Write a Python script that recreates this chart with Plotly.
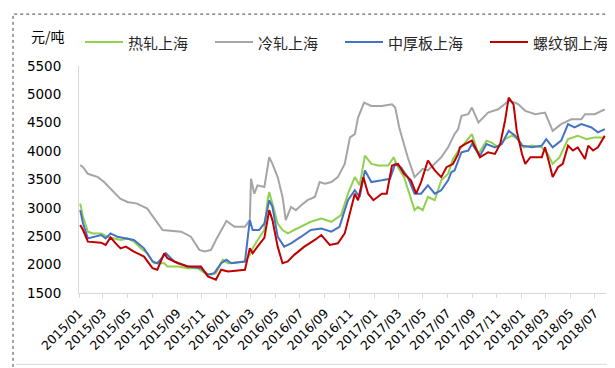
import plotly.graph_objects as go

# ---------------- data ----------------
hr_dates = ["2015-01-04","2015-01-11","2015-01-23","2015-02-05","2015-02-25","2015-03-12","2015-03-29","2015-04-14","2015-05-01","2015-05-17","2015-06-03","2015-06-19","2015-07-06","2015-07-31","2015-08-08","2015-09-03","2015-09-27","2015-10-22","2015-11-08","2015-11-24","2015-12-06","2015-12-23","2016-01-05","2016-02-16","2016-02-28","2016-03-06","2016-03-18","2016-04-04","2016-04-12","2016-04-16","2016-04-24","2016-05-07","2016-05-19","2016-06-01","2016-06-17","2016-07-04","2016-07-28","2016-08-23","2016-09-17","2016-10-11","2016-10-28","2016-11-14","2016-11-26","2016-12-09","2016-12-25","2017-01-11","2017-02-05","2017-02-18","2017-03-01","2017-03-16","2017-04-02","2017-04-11","2017-04-19","2017-05-01","2017-05-14","2017-05-31","2017-06-16","2017-06-25","2017-07-03","2017-07-11","2017-07-15","2017-07-28","2017-08-14","2017-08-31","2017-09-16","2017-10-06","2017-10-18","2017-11-04","2017-11-21","2017-12-08","2017-12-24","2018-01-06","2018-01-27","2018-02-20","2018-03-07","2018-03-19","2018-04-05","2018-04-26","2018-05-20","2018-06-11","2018-07-01","2018-07-26"]
hr_values = [3075,2842,2580,2550,2550,2492,2462,2435,2462,2405,2287,2200,2025,2025,1967,1967,1937,1937,1850,1822,1850,2085,2025,2055,2172,2287,2430,2610,3135,3280,3075,2725,2610,2550,2610,2667,2755,2812,2755,2872,3250,3542,3397,3920,3775,3747,3747,3892,3717,3542,3135,2960,3017,2960,3192,3135,3485,3542,3600,3775,3862,4000,4155,4300,3950,4185,4155,4067,4212,4272,4212,4067,4097,4067,3950,3775,3892,4212,4272,4212,4242,4242]

cr_dates = ["2015-01-04","2015-01-11","2015-01-23","2015-02-17","2015-03-04","2015-03-20","2015-04-13","2015-05-01","2015-05-25","2015-06-19","2015-07-06","2015-07-27","2015-09-11","2015-10-05","2015-10-26","2015-11-08","2015-11-24","2015-12-06","2016-01-01","2016-01-21","2016-02-16","2016-02-28","2016-03-02","2016-03-10","2016-03-18","2016-04-04","2016-04-16","2016-04-24","2016-05-07","2016-05-19","2016-05-27","2016-06-09","2016-06-21","2016-07-04","2016-07-20","2016-08-07","2016-08-19","2016-09-01","2016-09-17","2016-10-03","2016-10-20","2016-11-02","2016-11-14","2016-11-22","2016-12-07","2016-12-25","2017-01-20","2017-02-14","2017-02-22","2017-03-04","2017-03-12","2017-03-25","2017-04-11","2017-04-19","2017-05-01","2017-05-14","2017-05-31","2017-06-16","2017-07-03","2017-07-19","2017-07-28","2017-08-05","2017-08-22","2017-08-31","2017-09-16","2017-10-10","2017-11-04","2017-11-30","2017-12-16","2017-12-24","2018-01-10","2018-02-04","2018-02-28","2018-03-07","2018-03-19","2018-04-09","2018-05-04","2018-05-29","2018-06-07","2018-07-01","2018-07-26"]
cr_values = [3757,3717,3600,3542,3455,3337,3162,3105,3075,2987,2812,2610,2580,2492,2260,2230,2260,2435,2770,2667,2667,2785,3512,3250,3397,3367,3892,3775,3542,3192,2785,3017,2960,3047,3135,3192,3455,3425,3455,3542,3775,4242,4300,4592,4855,4797,4797,4825,4767,4417,4212,3892,3542,3600,3687,3660,3775,3892,4067,4300,4390,4622,4650,4767,4505,4680,4737,4885,4855,4825,4710,4650,4680,4562,4357,4475,4562,4562,4650,4650,4737]

pl_dates = ["2015-01-04","2015-01-11","2015-01-23","2015-02-09","2015-02-25","2015-03-08","2015-03-20","2015-04-06","2015-04-27","2015-05-17","2015-06-11","2015-07-02","2015-07-14","2015-08-04","2015-08-25","2015-09-27","2015-10-30","2015-11-16","2015-12-02","2015-12-19","2016-01-01","2016-01-13","2016-02-16","2016-02-28","2016-03-06","2016-03-22","2016-04-04","2016-04-16","2016-04-24","2016-05-07","2016-05-23","2016-06-09","2016-07-04","2016-07-28","2016-08-23","2016-09-17","2016-10-07","2016-10-28","2016-11-14","2016-11-26","2016-12-09","2016-12-25","2017-01-20","2017-02-09","2017-02-22","2017-03-08","2017-03-25","2017-04-11","2017-04-27","2017-05-14","2017-05-31","2017-06-16","2017-07-03","2017-07-11","2017-07-19","2017-08-05","2017-08-22","2017-08-31","2017-09-20","2017-10-06","2017-10-27","2017-11-13","2017-11-30","2017-12-16","2018-01-02","2018-01-27","2018-02-20","2018-03-03","2018-03-19","2018-04-09","2018-04-26","2018-05-12","2018-05-29","2018-06-23","2018-07-09","2018-07-26"]
pl_values = [2960,2725,2462,2492,2522,2462,2550,2492,2462,2435,2287,2055,2025,2200,2055,1967,1937,1822,1850,2025,2085,2025,2055,2785,2610,2610,2725,3135,3017,2492,2317,2375,2492,2610,2637,2580,2667,3135,3310,3192,3660,3455,3485,3512,3775,3717,3542,3250,3250,3397,3250,3310,3485,3630,3660,3980,4010,4125,3920,4125,4067,4125,4357,4272,4097,4067,4097,4212,4067,4185,4475,4417,4475,4417,4330,4387]

rb_dates = ["2015-01-04","2015-01-11","2015-01-23","2015-02-25","2015-03-08","2015-03-20","2015-04-02","2015-04-14","2015-04-27","2015-05-17","2015-06-11","2015-07-02","2015-07-14","2015-07-31","2015-08-08","2015-09-03","2015-09-27","2015-10-30","2015-11-16","2015-12-06","2015-12-19","2016-01-05","2016-02-16","2016-02-28","2016-03-06","2016-03-14","2016-03-18","2016-04-04","2016-04-16","2016-04-24","2016-05-07","2016-05-19","2016-06-01","2016-06-17","2016-07-12","2016-08-07","2016-08-23","2016-09-13","2016-10-03","2016-10-20","2016-11-02","2016-11-14","2016-11-22","2016-12-05","2016-12-17","2016-12-30","2017-01-20","2017-02-01","2017-02-14","2017-03-01","2017-03-16","2017-04-02","2017-04-15","2017-04-27","2017-05-14","2017-05-31","2017-06-16","2017-06-29","2017-07-15","2017-07-28","2017-08-01","2017-08-14","2017-08-31","2017-09-20","2017-10-10","2017-10-27","2017-11-09","2017-11-21","2017-11-30","2017-12-12","2017-12-20","2018-01-02","2018-01-10","2018-01-23","2018-02-20","2018-02-28","2018-03-11","2018-03-19","2018-04-01","2018-04-13","2018-04-26","2018-05-08","2018-05-20","2018-06-07","2018-06-15","2018-06-27","2018-07-09","2018-07-26"]
rb_values = [2697,2610,2405,2387,2347,2480,2375,2287,2317,2230,2142,1937,1910,2200,2112,2025,1967,1967,1792,1735,1910,1880,1910,2287,2200,2287,2317,2470,2960,2785,2317,2025,2055,2172,2317,2435,2522,2347,2375,2550,2900,3250,3135,3542,3250,3135,3250,3250,3747,3775,3600,3485,3250,3455,3835,3660,3542,3717,3775,3950,4067,4125,4185,3892,3980,3950,4125,4535,4942,4825,4357,3950,3775,3892,3892,4067,3775,3542,3717,3775,4097,4010,4067,3862,4097,4010,4067,4272]

series_names = ["热轧上海", "冷轧上海", "中厚板上海", "螺纹钢上海"]
series_colors = ["#92D050", "#A5A5A5", "#4472C4", "#C00000"]
unit_label = "元/吨"
y_ticks = [1500, 2000, 2500, 3000, 3500, 4000, 4500, 5000, 5500]

# ---------------- layout geometry (pixels) ----------------
W, H = 615, 368
L, R, T, B = 71, 598, 58, 285.5

def px(x):
    return (x - L) / (R - L)

def py(y):
    return (B - y) / (B - T)

fig = go.Figure()
all_series = [(hr_dates, hr_values), (cr_dates, cr_values), (pl_dates, pl_values), (rb_dates, rb_values)]
for (d, v), name, col in zip(all_series, series_names, series_colors):
    fig.add_trace(go.Scatter(x=d, y=v, mode="lines", name=name,
                             line=dict(color=col, width=2), showlegend=False))

shapes = []
annotations = []
# outer dotted border
shapes.append(dict(type="rect", xref="paper", yref="paper",
                   x0=px(5), x1=px(611), y0=py(365), y1=py(6),
                   line=dict(color="#444444", width=1, dash="dot")))
# light gray bottom line
shapes.append(dict(type="line", xref="paper", yref="paper",
                   x0=px(8), x1=px(610), y0=py(357), y1=py(357),
                   line=dict(color="#D9D9D9", width=1)))
# manual legend
leg_line_x = [77, 207, 337, 482]
for name, col, lx in zip(series_names, series_colors, leg_line_x):
    shapes.append(dict(type="line", xref="paper", yref="paper",
                       x0=px(lx), x1=px(lx + 38), y0=py(34), y1=py(34),
                       line=dict(color=col, width=2)))
    annotations.append(dict(text=name, xref="paper", yref="paper",
                            x=px(lx + 41), y=py(34), xanchor="left", yanchor="middle",
                            showarrow=False,
                            font=dict(family="Noto Sans CJK SC", size=15, color="#262626")))
annotations.append(dict(text=unit_label, xref="paper", yref="paper",
                        x=px(21), y=py(28), xanchor="left", yanchor="middle",
                        showarrow=False,
                        font=dict(family="Noto Sans CJK SC", size=14, color="#000000")))

fig.update_layout(
    width=W, height=H,
    margin=dict(l=L, r=W - R, t=T, b=H - B, pad=0),
    paper_bgcolor="white", plot_bgcolor="white",
    shapes=shapes, annotations=annotations,
    showlegend=False,
)
fig.update_xaxes(
    type="date",
    range=["2015-01-01", "2018-07-29"],
    tickformat="%Y/%m", dtick="M2", tick0="2015-01-01",
    tickangle=-45,
    tickfont=dict(family="DejaVu Sans", size=12.5, color="#000000"),
    showgrid=False, zeroline=False,
    showline=True, linecolor="#D9D9D9", linewidth=1,
    ticks="outside", ticklen=4, tickcolor="#D9D9D9",
    ticklabelstandoff=3,
)
fig.update_yaxes(
    range=[1500, 5500], tickvals=y_ticks,
    tickfont=dict(family="DejaVu Sans", size=13.5, color="#000000"),
    showgrid=False, zeroline=False,
    showline=True, linecolor="#D9D9D9", linewidth=1,
    ticks="", ticklabelstandoff=14,
)

fig.write_html("out.html")
